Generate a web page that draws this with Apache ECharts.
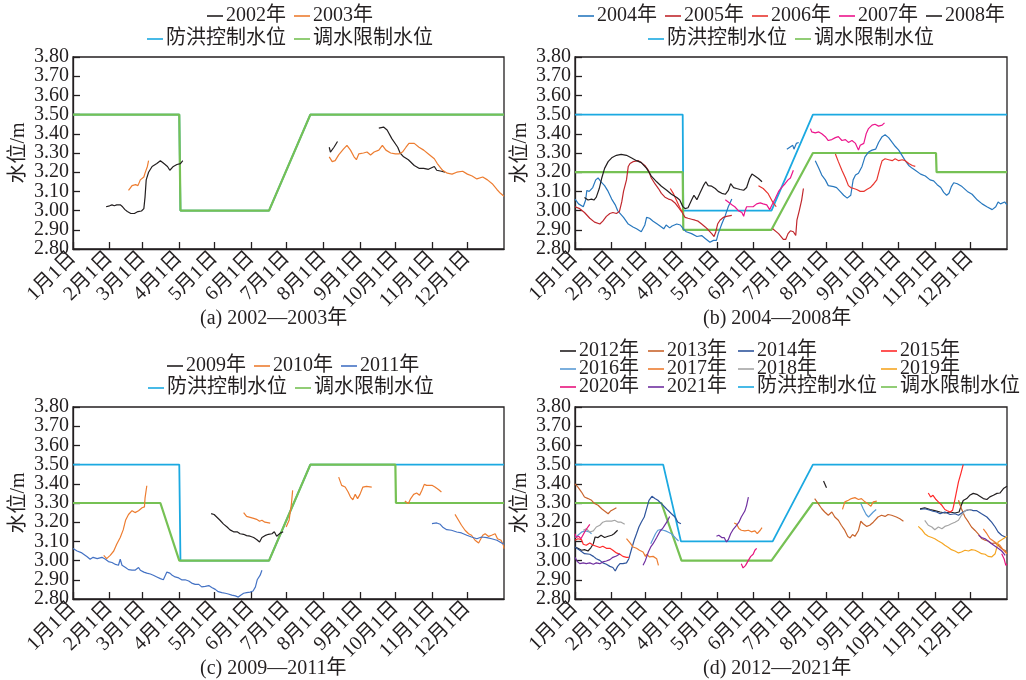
<!DOCTYPE html>
<html>
<head>
<meta charset="utf-8">
<script src="https://cdn.jsdelivr.net/npm/echarts@6/dist/echarts.min.js"></script>
<style>
html,body{margin:0;padding:0;background:#fff;}
#main{width:1026px;height:680px;}
</style>
</head>
<body>
<div id="main"></div>
<script>
// day of year where each month starts, and the tick labels
var monthDays = [0,31,59,90,120,151,181,212,243,273,304,334];
var monthLabels = ['1月1日','2月1日','3月1日','4月1日','5月1日','6月1日','7月1日','8月1日','9月1日','10月1日','11月1日','12月1日'];
// water level ticks, split in two so the tight labels are not culled
var levelEven = [2.8,3.0,3.2,3.4,3.6,3.8];
var levelOdd = [2.9,3.1,3.3,3.5,3.7];

// ---- (a) 2002-2003 ----
var floodA = [[0,3.5],[90,3.5],[91,3.0],[166,3.0],[201,3.5],[365,3.5]];
var limitA = [[0,3.5],[90,3.5],[91,3.0],[166,3.0],[201,3.5],[365,3.5]];
var y2002 = [
  [[28,3.02],[31,3.025],[33,3.03],[35,3.025],[37,3.03],[40,3.03],[42,3.02],[44,3.005],[46,2.995],[47,2.99],[49,2.985],[50,2.975],[52,2.985],[53,2.99],[55,2.995],[56,3.0],[58,2.998],[60,3.01],[61,3.07],[62,3.16],[64,3.20],[67,3.23],[71,3.245],[74,3.26],[77,3.245],[80,3.23],[82,3.21],[85,3.23],[88,3.24],[91,3.245],[93,3.26]],
  [[217,3.33],[218,3.305],[221,3.33],[224,3.36]],
  [[259,3.43],[263,3.435],[266,3.42],[270,3.375],[275,3.33],[277,3.30],[280,3.28],[284,3.265],[289,3.235],[293,3.22],[297,3.22],[301,3.215],[306,3.23],[308,3.21],[312,3.205],[315,3.20]]
];
var y2003 = [
  [[47,3.105],[50,3.13],[53,3.135],[55,3.13],[57,3.16],[58.5,3.165],[60,3.175],[61,3.195],[63,3.23],[64,3.26]],
  [[217,3.28],[219.5,3.255],[222,3.26],[225,3.29],[229,3.32],[232,3.34],[235,3.315],[238,3.28],[240,3.265],[242,3.295],[246,3.30],[249,3.305],[252,3.29],[255,3.305],[259,3.315],[262,3.34],[265,3.315],[269,3.30],[273,3.295],[276,3.295],[279,3.305],[282,3.33],[284.5,3.35],[289,3.35],[293,3.33],[297,3.315],[301,3.295],[306,3.27],[308.5,3.245],[313,3.21],[317,3.195],[321,3.19],[325,3.20],[330,3.205],[334,3.19],[338,3.18],[342,3.165],[347,3.175],[351,3.16],[355,3.14],[359,3.11],[362,3.09],[365,3.075]]
];

// ---- (b) 2004-2008 ----
var floodB = [[0,3.5],[91,3.5],[91.5,3.0],[166,3.0],[201,3.5],[365,3.5]];
var limitB = [[0,3.2],[91,3.2],[91.5,2.9],[166,2.9],[201,3.3],[305,3.3],[305.5,3.2],[365,3.2]];
var y2004 = [
  [[0,3.06],[3,3.035],[7,3.02],[9,3.055],[10,3.105],[12,3.10],[15,3.12],[17.5,3.16],[19.5,3.17],[22,3.15],[25,3.13],[28,3.10],[31,3.06],[34,3.03],[36,3.0],[41,2.965],[45,2.93],[49,2.915],[52,2.905],[56,2.89],[59,2.925],[60.5,2.965],[63,2.96],[66,2.945],[69.5,2.93],[73,2.915],[75,2.905],[77,2.925],[80,2.91],[82,2.92],[86,2.93],[89,2.925],[91.5,2.905],[94,2.89],[98.5,2.88],[103,2.865],[107,2.87],[110,2.855],[114,2.835],[117,2.845],[119.5,2.845],[121,2.88],[124,2.93],[127,2.975],[129.5,3.02],[132.5,3.06]],
  [[179,3.32],[181.5,3.33],[184,3.34],[185,3.32],[187,3.35],[189,3.355]],
  [[203,3.26],[206,3.22],[208.5,3.185],[211.5,3.16],[214,3.13],[218.5,3.125],[221,3.12],[224,3.10],[227,3.08],[230,3.065],[231.5,3.055],[233,3.08],[235,3.16],[237,3.185],[239.5,3.195],[242.5,3.23],[245,3.28],[248,3.305],[251,3.315],[254,3.32],[256.5,3.355],[259.5,3.385],[262,3.395],[265,3.38],[268,3.355],[270.5,3.335],[273.5,3.315],[276,3.29],[279,3.26],[282,3.235],[285,3.22],[287.5,3.21],[292,3.19],[296,3.18],[300,3.16],[303,3.155],[306,3.135],[309,3.12],[311.5,3.095],[314,3.08],[316,3.09],[318,3.125],[320,3.145],[323,3.14],[327,3.125],[331.5,3.10],[335.5,3.085],[340,3.055],[344,3.035],[348,3.02],[352.5,3.005],[355.5,3.02],[357.5,3.045],[359.5,3.035],[363,3.045],[365,3.03]]
];
var y2005 = [
  [[0,3.02],[4,3.01],[8,2.99],[12.5,2.96],[16.5,2.94],[21,2.93],[23.5,2.945],[26.5,2.97],[29.5,2.985],[32,2.99],[35,2.985],[37.5,2.995],[39.5,3.045],[41,3.10],[43.5,3.16],[45,3.23],[46.5,3.245],[49,3.255],[53.5,3.26],[56,3.25],[59,3.235],[62,3.21],[64.5,3.17],[67.5,3.14],[70.5,3.115],[73,3.09],[76,3.07],[79,3.06],[81.5,3.055],[84.5,3.04],[87,3.02],[90,2.995],[93,2.965],[95.5,2.96],[98.5,2.955],[101.5,2.95],[104,2.945],[107,2.93],[110,2.915],[112.5,2.90],[115.5,2.88],[117.5,2.865],[119,2.89],[120.5,2.93],[122.5,2.95],[125.5,2.965],[128,2.97],[132.5,2.975]],
  [[167,2.905],[172,2.88],[176,2.85],[178,2.85],[180,2.88],[182,2.895],[184.5,2.89],[186.5,2.87],[187.5,2.95],[189.5,3.0],[191.5,3.055],[193,3.115]]
];
var y2006 = [
  [[80.5,3.115],[83,3.09],[86,3.05],[89,3.01],[91,2.99]],
  [[155,3.13],[159,3.115],[163,3.09],[167,3.045],[170,3.02]],
  [[220,3.295],[222.5,3.255],[225.5,3.21],[228.5,3.17],[231,3.13],[233,3.12],[235.5,3.115],[238,3.11],[241,3.10],[244,3.10],[246.5,3.11],[249.5,3.12],[252.5,3.14],[255,3.16],[256.5,3.195],[258,3.23],[259.5,3.26],[262,3.27],[265,3.265],[268,3.26],[270.5,3.27],[273.5,3.26],[276.5,3.265],[279,3.26],[282,3.245],[285,3.235],[287.5,3.23]]
];
var y2007 = [
  [[127,3.057],[129.5,3.045],[132.5,3.03],[135,3.02],[138,3.0],[141,2.99],[142.5,2.97],[143.5,2.995],[145,3.02],[148,3.02],[150.5,3.02],[153.5,3.035],[156.5,3.04],[159,3.035],[162,3.03],[164.5,3.005],[166.5,3.03],[169,3.06],[172,3.10],[174.5,3.12],[177.5,3.14],[180,3.16],[182,3.17],[184.5,3.21]],
  [[199,3.427],[200,3.41],[203,3.405],[206,3.41],[208.5,3.40],[211.5,3.385],[214,3.365],[217,3.37],[220,3.38],[222.5,3.385],[225.5,3.365],[228.5,3.37],[231,3.355],[234,3.365],[237,3.35],[239.5,3.315],[241,3.34],[244,3.35],[246,3.40],[248,3.427],[251,3.445],[253.5,3.45],[256.5,3.44],[259.5,3.445],[261.5,3.457]]
];
var y2008 = [
  [[8,3.068],[11,3.055],[14,3.06],[16,3.055],[18,3.07],[20.5,3.115],[22.5,3.167],[25,3.22],[28,3.255],[31,3.275],[35,3.288],[39,3.293],[43.5,3.288],[47.5,3.275],[52,3.26],[56,3.25],[60.5,3.22],[64.5,3.18],[69,3.15],[73,3.127],[77.5,3.106],[81.5,3.085],[86,3.068],[88.5,3.055],[91,3.022],[93,3.01],[95.5,3.015],[98.5,3.055],[100.5,3.08],[103,3.057],[105.5,3.09],[108.5,3.13],[110.5,3.15],[112.5,3.13],[115.5,3.127],[118.5,3.115],[121,3.10],[124,3.09],[127,3.085],[129.5,3.105],[131.5,3.14],[134,3.12],[136.5,3.115],[139.5,3.11],[142.5,3.106],[145,3.12],[147.5,3.167],[149.5,3.19],[152,3.18],[155,3.167],[158,3.15]]
];

// ---- (c) 2009-2011 ----
var floodC = [[0,3.5],[90,3.5],[91,3.0],[166,3.0],[201,3.5],[365,3.5]];
var limitC = [[0,3.3],[74,3.3],[90,3.0],[166,3.0],[201,3.5],[273,3.5],[273.5,3.3],[365,3.3]];
var y2009 = [
  [[117,3.245],[119.5,3.24],[121,3.23],[124.5,3.21],[127.5,3.19],[130.5,3.175],[133,3.16],[136,3.15],[139,3.15],[141.5,3.14],[144.5,3.137],[147,3.13],[150,3.127],[153,3.12],[155.5,3.11],[158,3.097],[160,3.12],[162.5,3.13],[165.5,3.137],[168.5,3.14],[170.5,3.15],[172.5,3.127],[175.5,3.143],[178,3.15]]
];
var y2010 = [
  [[26,3.027],[28.5,3.01],[31.5,3.027],[34.5,3.05],[37,3.085],[40,3.12],[42.5,3.16],[44.5,3.21],[47,3.24],[50,3.26],[52.5,3.25],[55.5,3.26],[58.5,3.275],[60.5,3.28],[61,3.325],[62.5,3.39]],
  [[144.5,3.25],[147,3.23],[150,3.225],[153,3.22],[155.5,3.215],[158,3.205],[160,3.21],[162.5,3.20],[167,3.195]],
  [[180.5,3.175],[183,3.21],[185,3.297],[186,3.366]],
  [[225,3.435],[227.5,3.392],[230.5,3.383],[233,3.357],[235,3.331],[237,3.317],[239,3.345],[241,3.323],[243,3.345],[245.5,3.383],[248.5,3.387],[253,3.383]],
  [[281,3.31],[284,3.297],[286,3.323],[288.5,3.345],[291,3.352],[293.5,3.34],[295.5,3.366],[297.5,3.397],[299.5,3.392],[304,3.392],[306.5,3.383],[309.5,3.37],[312,3.357]],
  [[323.5,3.241],[326.5,3.21],[329,3.184],[332,3.158],[335,3.14],[337.5,3.132],[340.5,3.106],[343.5,3.092],[344.5,3.092],[347,3.132],[349,3.14],[352,3.126],[354.5,3.132],[357.5,3.14],[359.5,3.114],[362.5,3.106],[364.5,3.08],[365,3.062]]
];
var y2011 = [
  [[0,3.063],[3.5,3.05],[7.5,3.04],[12,3.02],[14.5,3.007],[17,3.017],[20.5,3.01],[24.5,3.017],[27.5,3.007],[30,2.995],[33,2.99],[36,2.98],[38.5,2.976],[40,3.007],[41.5,2.976],[44.5,2.964],[47,2.953],[50,2.95],[52.5,2.95],[55.5,2.964],[57,2.95],[60,2.94],[62.5,2.935],[65.5,2.93],[68,2.924],[71,2.915],[74,2.906],[76.5,2.90],[79.5,2.94],[82,2.935],[84,2.924],[86.5,2.915],[89.5,2.91],[92,2.90],[95,2.90],[98,2.894],[100.5,2.883],[103.5,2.876],[106.5,2.876],[109,2.863],[112,2.866],[115,2.87],[117.5,2.86],[120.5,2.85],[123,2.838],[126,2.833],[129,2.83],[131.5,2.826],[134.5,2.82],[137.5,2.816],[140,2.81],[142,2.82],[144.5,2.83],[147,2.833],[150,2.836],[152.5,2.842],[154.5,2.863],[156,2.90],[158.5,2.924],[160,2.95]],
  [[304,3.193],[308,3.196],[311,3.189],[313.5,3.172],[316.5,3.161],[320.5,3.158],[325,3.149],[329,3.144],[333.5,3.132],[337.5,3.123],[342,3.114],[346,3.123],[350.5,3.12],[354.5,3.114],[359,3.106],[363,3.092],[365,3.085]]
];

// ---- (d) 2012-2021 ----
var floodD = [[0,3.5],[74.5,3.5],[89.5,3.1],[167,3.1],[201,3.5],[365,3.5]];
var limitD = [[0,3.3],[73,3.3],[90,3.0],[166,3.0],[201,3.3],[365,3.3]];
var y2012 = [
  [[0,3.071],[2.5,3.064],[5.5,3.054],[8,3.057],[11,3.05],[13.5,3.068],[15.5,3.088],[17,3.123],[19.5,3.12],[22,3.132],[25,3.12],[28,3.127],[31,3.132],[33,3.14],[34,3.144],[36,3.158]],
  [[210,3.415],[212.5,3.38]],
  [[291.5,3.27],[295.5,3.275],[300,3.266],[304,3.26],[308.5,3.253],[312.5,3.248],[317,3.253],[321,3.248],[324.5,3.253],[326.5,3.29],[328,3.313],[331,3.323],[333.5,3.34],[336.5,3.35],[339.5,3.345],[342,3.335],[345,3.323],[348,3.318],[350.5,3.332],[353.5,3.34],[356.5,3.35],[359,3.352],[362,3.375],[365,3.387]]
];
var y2013 = [
  [[0,3.40],[2.5,3.383],[5.5,3.357],[8,3.331],[11,3.323],[14,3.314],[16.5,3.297],[19.5,3.288],[22.5,3.27],[25,3.258],[28,3.244],[30,3.258],[32,3.265],[35,3.275]],
  [[202.5,3.323],[205.5,3.297],[208.5,3.27],[211,3.253],[214,3.236],[217,3.253],[219.5,3.227],[222.5,3.21],[225,3.184],[228,3.157],[230.5,3.126],[232.5,3.118],[234.5,3.136],[236.5,3.126],[239.5,3.157],[241.5,3.205],[243.5,3.192],[246.5,3.178],[249,3.184],[252,3.20],[256,3.227],[259,3.236],[262,3.23],[264.5,3.24],[267.5,3.236],[271.5,3.227],[274.5,3.218],[277.5,3.205]],
  [[324,3.314],[326.5,3.27],[329.5,3.227],[332.5,3.20],[335,3.175],[338,3.157],[341,3.137],[343.5,3.115],[346.5,3.106],[349,3.102],[352,3.089],[355,3.092],[357.5,3.08],[360.5,3.062],[363.5,3.053],[365,3.036]]
];
var y2014 = [
  [[0,3.071],[4,3.054],[8,3.036],[12.5,3.033],[15.5,3.022],[18,3.01],[21,3.001],[23.5,2.988],[26.5,2.981],[29.5,2.97],[32,2.964],[34,2.946],[36,2.97],[38,2.984],[40.5,2.984],[43.5,2.988],[45.5,3.01],[47.5,3.054],[50,3.106],[52,3.14],[54,3.175],[56,3.20],[58.5,3.227],[62.5,3.314],[65,3.335],[67.5,3.323],[70,3.314],[73,3.297],[76,3.278],[78.5,3.262],[81.5,3.244],[84.5,3.227],[87,3.20],[89.5,3.192]],
  [[291.5,3.266],[295.5,3.27],[300,3.262],[302.5,3.257],[305.5,3.253],[308.5,3.244],[312.5,3.253],[317,3.24],[321,3.244],[324,3.236],[328,3.253],[331,3.262],[333.5,3.266],[336.5,3.26],[339.5,3.26],[343.5,3.244],[348,3.227],[352,3.20],[355,3.175],[357.5,3.149],[360.5,3.132],[363.5,3.123],[365,3.12]]
];
var y2015 = [
  [[0,3.106],[2.5,3.114],[5.5,3.109],[7,3.085],[9.5,3.08],[12.5,3.092],[15.5,3.08],[18,3.075],[21,3.068],[23.5,3.075],[26.5,3.064],[29.5,3.064],[32,3.054],[35,3.04],[38,3.033],[40.5,3.022],[43.5,3.017],[45.5,3.017]],
  [[298.5,3.352],[300.5,3.331],[302.5,3.34],[305,3.318],[307,3.306],[310,3.288],[312.5,3.266],[314.5,3.26],[317,3.253],[319,3.262],[320,3.288],[322,3.349],[324,3.41],[326,3.453],[327.5,3.488],[328,3.50]]
];
var y2016 = [
  [[0,3.12],[3,3.135],[6,3.15],[9,3.155],[12,3.15],[14,3.14]],
  [[64,3.088],[66,3.114],[68,3.14],[70,3.158],[72.5,3.161],[74.5,3.158],[76.5,3.155],[78.5,3.149],[81.5,3.14],[83.5,3.127],[85.5,3.114],[87.5,3.102]],
  [[241.5,3.297],[243.5,3.27],[246,3.24],[248,3.227],[250,3.24],[252,3.253],[254.5,3.266]]
];
var y2017 = [
  [[43.5,3.114],[46.5,3.092],[49,3.071],[52,3.064],[54.5,3.054],[57.5,3.045],[59.5,3.022],[60.5,3.033],[63,3.019],[66,3.022],[69,3.01],[70.5,2.975]],
  [[134.5,3.196],[136.5,3.19],[138.5,3.167],[140.5,3.158],[143.5,3.155],[146.5,3.158],[149,3.15],[152,3.155],[154,3.14],[155.5,3.132],[156.5,3.158],[158,3.172]],
  [[226,3.267],[228,3.306],[231,3.314],[233.5,3.323],[236.5,3.328],[239.5,3.318],[242,3.323],[245,3.306],[248,3.293],[250,3.283],[252,3.306],[255,3.31]],
  [[345,3.165],[348,3.14],[350.5,3.115],[353.5,3.102],[356.5,3.089],[359,3.08],[362,3.053],[365,3.036]]
];
var y2018 = [
  [[7,3.158],[9.5,3.166],[12.5,3.149],[15.5,3.155],[18,3.175],[21,3.184],[23.5,3.20],[26.5,3.206],[31,3.206],[33.5,3.21],[36.5,3.20],[39,3.20],[42,3.189]],
  [[295.5,3.21],[298.5,3.184],[301.5,3.175],[304,3.161],[307,3.175],[310,3.166],[312.5,3.178],[315.5,3.184],[318,3.192],[321,3.20],[324,3.21],[326.5,3.236],[329.5,3.26],[332.5,3.266],[335,3.262]]
];
var y2019 = [
  [[290,3.178],[293,3.161],[295.5,3.14],[298.5,3.127],[301.5,3.12],[304,3.114],[307,3.102],[310,3.092],[312.5,3.08],[315.5,3.068],[318,3.057],[321,3.05],[324,3.04],[326.5,3.045],[329.5,3.054],[332.5,3.05],[335,3.057],[338,3.054],[341,3.045],[343.5,3.036],[346.5,3.033],[349,3.022],[352,3.019],[355,3.036],[356.5,3.071],[357.5,3.097],[360.5,3.109],[363.5,3.12],[365,3.127]]
];
var y2020 = [
  [[0,3.14],[1,3.12],[3,3.127],[5,3.114],[7,3.136],[9,3.158],[10.5,3.166],[12.5,3.189]],
  [[140.5,2.983],[142,2.962],[144,2.974],[146.5,3.001],[148.5,3.022],[150.5,3.033],[152,3.054],[153.5,3.064]],
  [[360.5,3.036],[362.5,3.01],[364,2.975],[365,2.983]]
];
var y2021 = [
  [[0,3.017],[2,2.995],[4,2.984],[7,2.988],[9.5,2.984],[12.5,2.988],[15.5,2.981],[18,2.988],[21,2.984],[23.5,2.993],[26.5,2.998],[29.5,3.005],[32,3.017],[35,3.024],[38,3.036]],
  [[57.5,2.976],[59.5,3.001],[62,3.045],[64,3.071],[66,3.088],[69,3.12],[71.5,3.149],[74.5,3.172],[77.5,3.20],[80,3.23]],
  [[119.5,3.127],[121.5,3.132],[124,3.12],[126,3.12],[128,3.097],[129.5,3.109],[131.5,3.14],[133.5,3.161],[136.5,3.184],[138.5,3.20],[140.5,3.227],[143.5,3.258],[145,3.288],[146.5,3.331]],
  [[341,3.132],[343.5,3.12],[346.5,3.114],[349,3.102],[352,3.088],[355,3.075],[357.5,3.064],[360.5,3.05],[363.5,3.027]]
];

var FONT = "'Liberation Serif','Noto Sans CJK SC',serif";
var INK = '#231f20';
var FLOOD = '#1ba9e1', LIMIT = '#76c154';

var grids = [
  {left:73, top:57, width:431, height:192},
  {left:575, top:57, width:432, height:192},
  {left:73, top:407, width:431, height:192},
  {left:575, top:407, width:432, height:192}
];

function fmt2(v){ return v.toFixed(2); }

var xAxes = [], yAxes = [];
for (var i = 0; i < 4; i++) {
  grids[i].show = true;
  grids[i].borderColor = INK;
  grids[i].borderWidth = 1.3;
  xAxes.push({
    type:'value', gridIndex:i, min:0, max:365,
    axisLine:{lineStyle:{color:INK, width:1.3}},
    splitLine:{show:false},
    axisTick:{inside:true, length:7, customValues:monthDays, lineStyle:{color:INK, width:1.3}},
    axisLabel:{
      customValues:monthDays, rotate:45, margin:6,
      fontFamily:FONT, fontSize:20, color:INK,
      formatter:function(v){ return monthLabels[monthDays.indexOf(Math.round(v))]; }
    }
  });
  // main y axis: line, name and the even labels (index 2*i)
  yAxes.push({
    type:'value', gridIndex:i, min:2.8, max:3.8, position:'left',
    name:'水位/m', nameLocation:'middle', nameGap:44,
    nameTextStyle:{fontFamily:FONT, fontSize:20, color:INK},
    axisLine:{lineStyle:{color:INK, width:1.3}},
    splitLine:{show:false},
    axisTick:{inside:true, length:7, customValues:levelEven, lineStyle:{color:INK, width:1.3}},
    axisLabel:{customValues:levelEven, margin:4, fontFamily:FONT, fontSize:20, color:INK,
      showMinLabel:true, showMaxLabel:true, formatter:fmt2}
  });
  // twin y axis on the same side for the odd labels (index 2*i+1)
  yAxes.push({
    type:'value', gridIndex:i, min:2.8, max:3.8, position:'left', offset:0,
    axisLine:{show:false},
    splitLine:{show:false},
    axisTick:{inside:true, length:7, customValues:levelOdd, lineStyle:{color:INK, width:1.3}},
    axisLabel:{customValues:levelOdd, margin:4, fontFamily:FONT, fontSize:20, color:INK,
      showMinLabel:true, showMaxLabel:true, formatter:fmt2}
  });
}

var series = [];
function addLine(name, color, width, idx, segs) {
  for (var k = 0; k < segs.length; k++) {
    series.push({
      type:'line', name:name, xAxisIndex:idx, yAxisIndex:idx * 2,
      data:segs[k], symbol:'none', silent:true,
      lineStyle:{color:color, width:width}, itemStyle:{color:color}
    });
  }
}

// control levels first, observed years on top
addLine('防洪控制水位', FLOOD, 1.8, 0, [floodA]);
addLine('调水限制水位', LIMIT, 2.2, 0, [limitA]);
addLine('2002年', INK, 1.2, 0, y2002);
addLine('2003年', '#ed7d31', 1.2, 0, y2003);

addLine('防洪控制水位', FLOOD, 1.8, 1, [floodB]);
addLine('调水限制水位', LIMIT, 2.2, 1, [limitB]);
addLine('2004年', '#2878be', 1.2, 1, y2004);
addLine('2005年', '#c0272d', 1.2, 1, y2005);
addLine('2006年', '#e8352f', 1.2, 1, y2006);
addLine('2007年', '#ec168c', 1.2, 1, y2007);
addLine('2008年', INK, 1.2, 1, y2008);

addLine('防洪控制水位', FLOOD, 1.8, 2, [floodC]);
addLine('调水限制水位', LIMIT, 2.2, 2, [limitC]);
addLine('2009年', INK, 1.2, 2, y2009);
addLine('2010年', '#ed7d31', 1.2, 2, y2010);
addLine('2011年', '#4472c4', 1.2, 2, y2011);

addLine('防洪控制水位', FLOOD, 1.8, 3, [floodD]);
addLine('调水限制水位', LIMIT, 2.2, 3, [limitD]);
addLine('2012年', INK, 1.2, 3, y2012);
addLine('2013年', '#c8642d', 1.2, 3, y2013);
addLine('2014年', '#2f559c', 1.2, 3, y2014);
addLine('2015年', '#ff2a2a', 1.2, 3, y2015);
addLine('2016年', '#5b9bd5', 1.2, 3, y2016);
addLine('2017年', '#ed7d31', 1.2, 3, y2017);
addLine('2018年', '#a5a5a5', 1.2, 3, y2018);
addLine('2019年', '#f5a623', 1.2, 3, y2019);
addLine('2020年', '#e8157d', 1.2, 3, y2020);
addLine('2021年', '#7030a0', 1.2, 3, y2021);

function legend(names, left, top, vertical) {
  return {
    data:names, left:left, top:top, orient:vertical ? 'vertical' : 'horizontal',
    padding:0, itemGap:vertical ? -2 : 8, itemWidth:16, itemHeight:1.6,
    icon:'rect', selectedMode:false,
    textStyle:{fontFamily:FONT, fontSize:20, color:INK, padding:[0,0,0,-2]}
  };
}
var legends = [
  legend(['2002年','2003年'], 207, 6),
  legend(['防洪控制水位','调水限制水位'], 147, 29),
  legend(['2004年','2005年','2006年','2007年','2008年'], 578, 6),
  legend(['防洪控制水位','调水限制水位'], 648, 29),
  legend(['2009年','2010年','2011年'], 167, 356),
  legend(['防洪控制水位','调水限制水位'], 148, 378),
  legend(['2012年','2016年','2020年'], 560, 341, true),
  legend(['2013年','2017年','2021年'], 648, 341, true),
  legend(['2014年','2018年','防洪控制水位'], 738, 341, true),
  legend(['2015年','2019年','调水限制水位'], 881, 341, true)
];

function caption(text, left, top) {
  return {text:text, left:left, top:top, padding:0,
    textStyle:{fontFamily:FONT, fontSize:20, fontWeight:'normal', color:INK}};
}

var chart = echarts.init(document.getElementById('main'));
chart.setOption({
  animation:false,
  backgroundColor:'#fff',
  title:[
    caption('(a) 2002—2003年', 200, 309),
    caption('(b) 2004—2008年', 703, 309),
    caption('(c) 2009—2011年', 200, 659),
    caption('(d) 2012—2021年', 703, 659)
  ],
  legend:legends,
  grid:grids,
  xAxis:xAxes,
  yAxis:yAxes,
  series:series
});
</script>
</body>
</html>
